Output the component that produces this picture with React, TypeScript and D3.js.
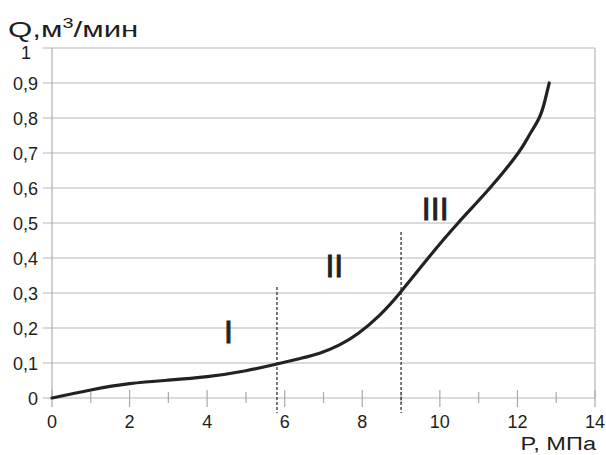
import React from "react";
import * as d3 from "d3";

const pressure = [0, 1, 2, 3, 4, 5, 5.8, 6.4, 6.9, 7.4, 7.9, 8.45, 8.97, 9.7, 10.47, 11.29, 12.02, 12.3, 12.56, 12.71, 12.82];
const flow = [0, 0.023, 0.041, 0.051, 0.061, 0.078, 0.097, 0.113, 0.128, 0.151, 0.185, 0.237, 0.3, 0.4, 0.5, 0.6, 0.7, 0.75, 0.8, 0.85, 0.9];
const xTicks = [0, 2, 4, 6, 8, 10, 12, 14];
const xMinorTicks = [1, 3, 5, 7, 9, 11, 13];
const yTicks = [0, 0.1, 0.2, 0.3, 0.4, 0.5, 0.6, 0.7, 0.8, 0.9, 1];
const boundaries = [
  { p: 5.8, top: 0.317 },
  { p: 9.0, top: 0.474 },
];
const zones = [
  { label: "I", p: 4.55, q: 0.163 },
  { label: "II", p: 7.28, q: 0.351 },
  { label: "III", p: 9.88, q: 0.514 },
];

export default function App() {
  const W = 606, H = 455;
  const x = d3.scaleLinear().domain([0, 14]).range([52, 595]);
  const y = d3.scaleLinear().domain([0, 1]).range([398, 48]);
  const pts = pressure.map((p, i) => [p, flow[i]] as [number, number]);
  const line = d3
    .line<[number, number]>()
    .x((d) => x(d[0]))
    .y((d) => y(d[1]))
    .curve(d3.curveNatural);
  const font = "'Liberation Sans', Arial, sans-serif";
  const fmt = (v: number) => (v === 0 || v === 1 ? String(v) : v.toFixed(1).replace(".", ","));
  return (
    <svg width={W} height={H} style={{ position: "absolute", left: 0, top: 0 }} fontFamily={font}>
      <rect width={W} height={H} fill="#fff" />
      {yTicks.map((t) => (
        <line key={"g" + t} x1={43} x2={595} y1={y(t)} y2={y(t)} stroke="#b8b8b8" strokeWidth={1.2} />
      ))}
      <line x1={52} x2={52} y1={y(1)} y2={y(0)} stroke="#b0b0b0" strokeWidth={1.2} />
      <line x1={595} x2={595} y1={y(1)} y2={y(0)} stroke="#b8b8b8" strokeWidth={1.2} />
      {xTicks.map((t) => (
        <line key={"xt" + t} x1={x(t)} x2={x(t)} y1={390} y2={407} stroke="#aaa" strokeWidth={1.2} />
      ))}
      {xMinorTicks.map((t) => (
        <line key={"xm" + t} x1={x(t)} x2={x(t)} y1={392} y2={403} stroke="#aaa" strokeWidth={1.2} />
      ))}
      {yTicks.map((t) => (
        <text
          key={"yl" + t}
          x={t === 1 ? 31 : 38}
          y={t === 1 ? y(t) + 11 : y(t) + 6.5}
          textAnchor="end"
          fontSize={18}
          fill="#1e1e1e"
        >
          {fmt(t)}
        </text>
      ))}
      {xTicks.map((t) => (
        <text key={"xl" + t} x={x(t)} y={428} textAnchor="middle" fontSize={18} fill="#1e1e1e">
          {t}
        </text>
      ))}
      {boundaries.map((b) => (
        <line
          key={"b" + b.p}
          x1={x(b.p)}
          x2={x(b.p)}
          y1={y(b.top)}
          y2={413}
          stroke="#222"
          strokeWidth={1.2}
          strokeDasharray="3,2"
        />
      ))}
      <path d={line(pts) || ""} fill="none" stroke="#222" strokeWidth={3.2} strokeLinecap="round" />
      {zones.map((z) => (
        <text
          key={z.label}
          x={x(z.p)}
          y={y(z.q) + 2}
          textAnchor="middle"
          fontSize={32}
          fill="#222"
          stroke="#222"
          strokeWidth={0.9}
        >
          {z.label}
        </text>
      ))}
      <g transform="translate(8,37) scale(1.42,1)">
        <text x={0} y={0} fontSize={22} fill="#1e1e1e">
          Q,м<tspan dy={-9} fontSize={14}>3</tspan>
          <tspan dy={9}>/мин</tspan>
        </text>
      </g>
      <g transform="translate(596,450) scale(1.24,1)">
        <text x={0} y={0} textAnchor="end" fontSize={19} fill="#1e1e1e">
          P, МПа
        </text>
      </g>
    </svg>
  );
}
